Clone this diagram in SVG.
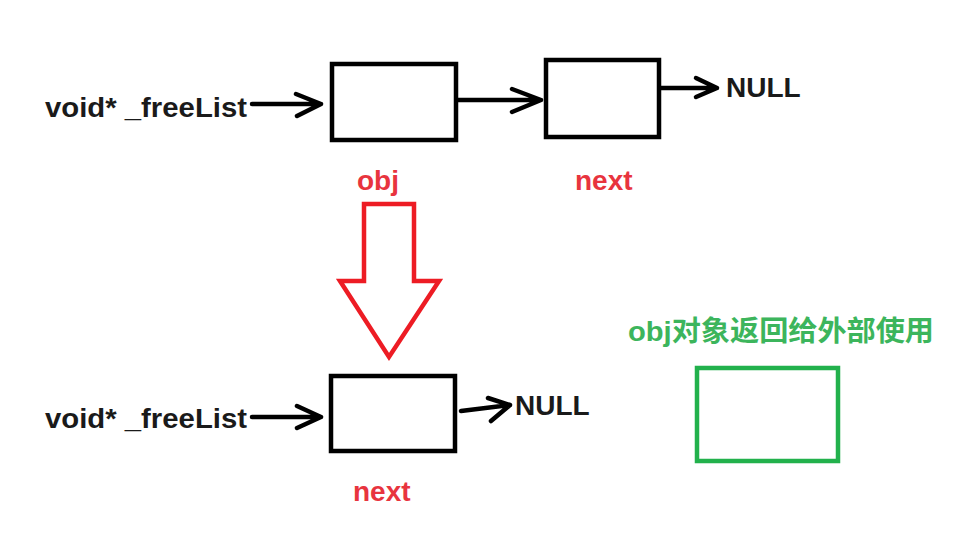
<svg xmlns="http://www.w3.org/2000/svg" width="970" height="542" viewBox="0 0 970 542">
<style>
.t{font-family:"Liberation Sans",Arial,"Noto Sans CJK SC",sans-serif;font-weight:bold;font-size:28px}
.k{fill:#1a1a1a}
.r{fill:#e8343e}
.g{fill:#3cb55c}
.box{fill:#fff;stroke:#000;stroke-width:4.5}
.ln{fill:none;stroke:#000;stroke-width:4.5;stroke-linecap:round;stroke-linejoin:round}
</style>
<rect width="970" height="542" fill="#fff"/>
<g id="top-head"><text class="t k" x="45" y="117" textLength="202" lengthAdjust="spacingAndGlyphs">void* _freeList</text></g>
<g id="top-obj"><rect class="box" x="332" y="64" width="124" height="76"/><text class="t r" x="357" y="190">obj</text></g>
<g id="top-next"><rect class="box" x="546" y="60" width="113" height="77"/><text class="t r" x="575" y="190">next</text></g>
<g id="top-null"><text class="t k" x="726" y="97">NULL</text></g>
<g id="down-arrow"><polygon points="364,204 414,204 414,281 439,281 389,357 340,281 364,281" fill="#fff" stroke="#ed1c24" stroke-width="4.5" stroke-linejoin="miter"/></g>
<g id="bot-head"><text class="t k" x="45" y="428" textLength="202" lengthAdjust="spacingAndGlyphs">void* _freeList</text></g>
<g id="bot-next"><rect class="box" x="331" y="376" width="124" height="75"/><text class="t r" x="353" y="501">next</text></g>
<g id="bot-null"><text class="t k" x="515" y="415">NULL</text></g>
<g id="returned"><text class="t g" x="628" y="341" textLength="306" lengthAdjust="spacingAndGlyphs">obj对象返回给外部使用</text><rect x="697" y="368" width="141" height="93" fill="#fff" stroke="#22b14c" stroke-width="4.5"/></g>
<g id="connectors">
<path class="ln" d="M252,104 H321 M296,94 L321,104 L297,116"/>
<path class="ln" d="M458,100 H541 M512,89 L541,100 L512,112"/>
<path class="ln" d="M661,88 H717 M696,78 L717,88 L696,97"/>
<path class="ln" d="M252,417 H321 M297,406 L321,417 L297,428"/>
<path class="ln" d="M461,411 L510,405 M488,398 L510,405 L491,421"/>
</g>
</svg>
